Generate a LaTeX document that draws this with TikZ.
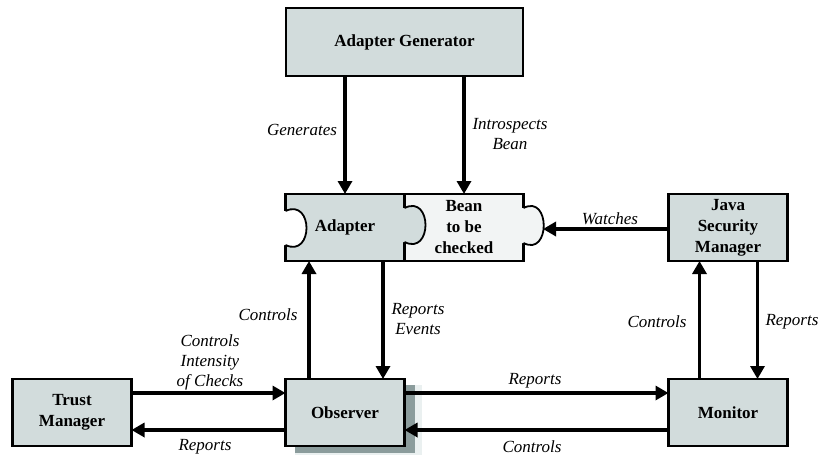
\documentclass[tikz,border=0pt]{standalone}
\usepackage{fontspec}
\setmainfont{Liberation Serif}
\usetikzlibrary{positioning,arrows.meta}
\definecolor{boxfill}{HTML}{D2DCDC}
\definecolor{beanfill}{HTML}{F2F4F4}
\definecolor{shadowgray}{HTML}{8B9C9C}
\definecolor{shadowpale}{HTML}{EAF0F0}

\begin{document}
\begin{tikzpicture}[x=1pt,y=-1pt,
				box/.style={draw,line width=2.2pt,fill=boxfill,minimum width=119pt,minimum height=67pt,
					inner sep=0pt,outer sep=0pt,align=center,font=\fontsize{17}{21}\selectfont\bfseries},
				lbl/.style={align=center,inner sep=0pt,font=\fontsize{17}{20}\selectfont\itshape},
				arr/.style={line width=3.3pt,-{Triangle[length=13pt,width=14pt]}},
				knob/.style={line width=1.8pt}]
				\useasboundingbox (0,0) rectangle (820,455);
				\node[box,minimum width=237pt,minimum height=68pt] (gen) at (404.5,42) {Adapter Generator};
				\node[box]                   (adapter) at (345,227.5)          {Adapter};
				\node[box,fill=beanfill]     (bean)    [right=0pt of adapter]  {Bean\\to be\\checked};
				\node[box,draw=none,fill=shadowpale,minimum width=127pt,minimum height=70pt] (obspale) at (358.5,420) {};
				\node[box,draw=none,fill=shadowgray,minimum width=120pt,minimum height=68pt] (obsshadow) at (355,419) {};
				\node[box]                   (obs)     [below=118pt of adapter] {Observer};
				\node[box]                   (trust)   [left=154pt of obs]     {Trust\\Manager};
				\node[box]                   (mon)     [right=264pt of obs]    {Monitor};
				\node[box]                   (jsm)     [above=118pt of mon]    {Java\\Security\\Manager};

				% puzzle knobs
				\fill[white] ([xshift=-1.8pt,yshift=16.5pt]adapter.west) -- ([yshift=16.5pt]adapter.west)
					.. controls +(28,-13) and +(28,13) .. ([yshift=-17.5pt]adapter.west) -- ([xshift=-1.8pt,yshift=-17.5pt]adapter.west) -- cycle;
				\draw[knob] ([yshift=16.5pt]adapter.west) .. controls +(28,-13) and +(28,13) .. ([yshift=-17.5pt]adapter.west);
				\fill[boxfill] ([xshift=-1.8pt,yshift=19.5pt]adapter.east) -- ([yshift=19.5pt]adapter.east)
					.. controls +(28,-14) and +(28,14) .. ([yshift=-14.5pt]adapter.east) -- ([xshift=-1.8pt,yshift=-14.5pt]adapter.east) -- cycle;
				\draw[knob] ([yshift=19.5pt]adapter.east) .. controls +(28,-14) and +(28,14) .. ([yshift=-14.5pt]adapter.east);
				\fill[beanfill] ([xshift=-1.8pt,yshift=19.5pt]bean.east) -- ([yshift=19.5pt]bean.east)
					.. controls +(27,-14) and +(27,14) .. ([yshift=-15.5pt]bean.east) -- ([xshift=-1.8pt,yshift=-15.5pt]bean.east) -- cycle;
				\draw[knob] ([yshift=19.5pt]bean.east) .. controls +(27,-14) and +(27,14) .. ([yshift=-15.5pt]bean.east);
				\coordinate (tabtip) at (543,229);

				\draw[arr] (gen.south -| adapter.north) -- (adapter.north);
				\draw[arr] (gen.south -| bean.north) -- (bean.north);
				\draw[arr] ([xshift=-36pt]obs.north) -- ([xshift=-36pt]adapter.south);
				\draw[arr] ([xshift=38pt]adapter.south) -- ([xshift=38pt]obs.north);
				\draw[arr] (jsm.west |- tabtip) -- (tabtip);
				\draw[arr] ([xshift=-28.5pt]mon.north) -- ([xshift=-28.5pt]jsm.south);
				\draw[arr] ([xshift=29.5pt]jsm.south) -- ([xshift=29.5pt]mon.north);
				\draw[arr] ([yshift=19.5pt]obs.east) -- ([yshift=19.5pt]mon.west);
				\draw[arr] ([yshift=-17.5pt]mon.west) -- ([yshift=-17.5pt]obs.east);
				\draw[arr] ([yshift=19.5pt]trust.east) -- ([yshift=19.5pt]obs.west);
				\draw[arr] ([yshift=-17.5pt]obs.west) -- ([yshift=-17.5pt]trust.east);

				\node[lbl] (lgen)      at (302,130) {Generates};
				\node[lbl] (lintro)    at (510,134) {Introspects\\Bean};
				\node[lbl] (lwatch)    at (610,219) {Watches};
				\node[lbl] (lobsctl)   at (268,315) {Controls};
				\node[lbl] (lobsrep)   at (418,319) {Reports\\Events};
				\node[lbl] (ltrustctl) at (210,362) {Controls\\Intensity\\of Checks};
				\node[lbl] (ltrustrep) at (205,447) {Reports};
				\node[lbl] (lobsmon)   at (535,381) {Reports};
				\node[lbl] (lmonobs)   at (532,447) {Controls};
				\node[lbl] (ljsmctl)   at (657,322) {Controls};
				\node[lbl] (ljsmrep)   at (792,322) {Reports};
			\end{tikzpicture}
\end{document}
